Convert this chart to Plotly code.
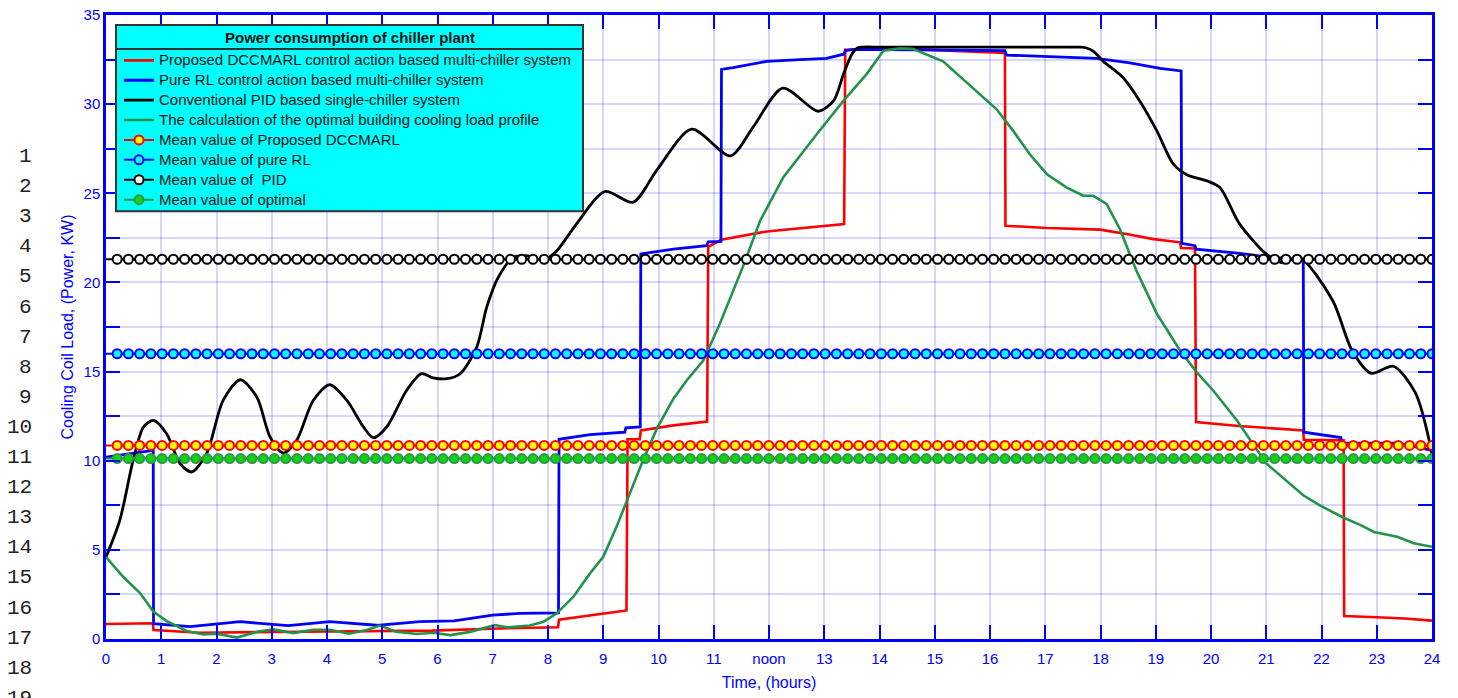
import plotly.graph_objects as go
import numpy as np

# ---------------- data ----------------
hours_ticks = list(range(0, 25))
hour_labels = [str(h) if h != 12 else "noon" for h in hours_ticks]
y_tickvals = [0, 2.5, 5, 7.5, 10, 12.5, 15, 17.5, 20, 22.5, 25, 27.5, 30, 32.5, 35]
y_ticktext = ["0", "", "5", "", "10", "", "15", "", "20", "", "25", "", "30", "", "35"]

red_x = [0, 0.5, 0.85, 0.86, 1.7, 3.5, 5.9, 7.25, 8.18, 8.2, 8.94, 9.42, 9.44, 9.66, 9.68,
         10.27, 10.88, 10.9, 11.14, 11.96, 13.36, 13.38, 14.5, 15.82, 16.27, 16.28, 17.03,
         17.99, 18.47, 18.96, 19.44, 19.46, 19.71, 19.73, 20.5, 21.67, 21.68, 22.4, 22.41,
         23.0, 23.5, 24]
red_y = [0.84, 0.87, 0.88, 0.5, 0.35, 0.41, 0.47, 0.6, 0.66, 1.08, 1.38, 1.6, 11.2, 11.2, 11.7,
         11.98, 12.2, 22.0, 22.4, 22.86, 23.27, 33.05, 33.1, 32.94, 32.87, 23.18, 23.05,
         22.96, 22.72, 22.43, 22.25, 21.93, 21.9, 12.17, 11.95, 11.7, 11.18, 11.15, 1.29,
         1.22, 1.15, 1.03]

blue_x = [0, 0.83, 0.855, 0.86, 1.52, 2.43, 3.3, 4.05, 4.9, 5.68, 6.3, 7.0, 7.5, 8.19, 8.2,
          8.76, 9.39, 9.41, 9.67, 9.68, 10.27, 10.87, 10.9, 11.13, 11.14, 11.35, 11.96, 12.56,
          13.04, 13.35, 13.38, 13.53, 16.27, 16.3, 17.93, 18.53, 19.08, 19.46, 19.47, 19.71,
          19.73, 20.52, 21.1, 21.67, 21.68, 22.35, 22.37, 23.4, 24]
blue_y = [10.2, 10.58, 10.58, 0.86, 0.69, 0.97, 0.75, 0.97, 0.77, 0.98, 1.02, 1.34, 1.44, 1.47, 11.2,
          11.46, 11.6, 11.85, 11.89, 21.6, 21.87, 22.06, 22.28, 22.3, 31.95, 32.05, 32.4, 32.5,
          32.57, 32.8, 33.0, 33.07, 33.0, 32.75, 32.57, 32.32, 32.0, 31.86, 22.19, 22.06,
          21.87, 21.63, 21.4, 21.3, 11.6, 11.3, 11.0, 10.98, 10.58]

black_x = [0, 0.25, 0.49, 0.68, 0.86, 1.1, 1.34, 1.55, 1.82, 2.12, 2.43, 2.73, 2.97, 3.21, 3.45,
           3.75, 4.05, 4.36, 4.66, 4.84, 5.08, 5.44, 5.71, 5.92, 6.17, 6.41, 6.71, 6.89, 7.1,
           7.37, 7.61, 7.92, 8.16, 8.52, 9.03, 9.54, 9.97, 10.6, 11.3, 11.71, 12.25, 12.89,
           13.17, 13.35, 13.5, 13.6, 13.7, 14.0, 15.0, 16.0, 17.0, 17.5, 17.65, 17.75, 17.88,
           18.05, 18.41, 18.71, 19.02, 19.32, 19.56, 19.92, 20.16, 20.52, 21.0, 21.3, 21.6,
           22.2, 22.55, 22.9, 23.3, 23.7, 24]
black_y = [4.6, 6.66, 10.0, 11.9, 12.26, 11.5, 9.84, 9.37, 10.4, 13.38, 14.54, 13.57, 11.33, 10.43,
           11.14, 13.38, 14.26, 13.38, 11.89, 11.29, 11.89, 13.94, 14.88, 14.65, 14.6, 14.88,
           16.37, 18.6, 20.29, 21.4, 21.5, 21.26, 21.78, 23.3, 25.1, 24.5, 26.3, 28.6, 27.1,
           28.7, 30.9, 29.6, 30.2, 31.7, 32.8, 33.15, 33.2, 33.2, 33.2, 33.2, 33.2, 33.2, 33.2,
           33.15, 32.95, 32.4, 31.48, 30.18, 28.5, 26.63, 26.04, 25.7, 25.32, 23.27, 21.6,
           21.1, 21.4, 19.0, 16.2, 14.9, 15.3, 13.8, 10.4]

green_x = [0, 0.31, 0.62, 0.86, 1.1, 1.46, 1.76, 2.0, 2.37, 2.73, 3.03, 3.39, 3.75, 4.05, 4.4,
           4.72, 4.96, 5.25, 5.62, 5.92, 6.23, 6.59, 7.04, 7.28, 7.67, 7.92, 8.16, 8.46, 8.76,
           9.0, 9.24, 9.48, 9.72, 9.97, 10.27, 10.51, 10.81, 11.11, 11.53, 11.84, 12.26, 12.86,
           13.35, 13.77, 14.07, 14.37, 14.6, 15.15, 15.7, 16.12, 16.42, 16.72, 17.03, 17.39,
           17.69, 17.87, 18.11, 18.35, 18.65, 19.02, 19.44, 19.74, 20.04, 20.47, 21.0, 21.67,
           21.97, 22.4, 22.7, 22.95, 23.37, 23.67, 24]
green_y = [4.6, 3.49, 2.56, 1.53, 1.0, 0.45, 0.25, 0.3, 0.08, 0.4, 0.54, 0.33, 0.52, 0.52, 0.3,
           0.5, 0.75, 0.41, 0.28, 0.35, 0.22, 0.4, 0.78, 0.65, 0.76, 0.97, 1.44, 2.37, 3.68,
           4.61, 6.29, 8.16, 10.02, 11.8, 13.48, 14.5, 15.62, 17.68, 20.9, 23.46, 25.9, 28.3,
           30.2, 31.7, 33.0, 33.13, 33.1, 32.4, 30.9, 29.71, 28.5, 27.19, 26.07, 25.32,
           24.86, 24.86, 24.4, 23.0, 20.66, 18.24, 16.18, 14.97, 13.94, 12.26, 9.85, 8.06,
           7.5, 6.8, 6.4, 6.0, 5.73, 5.37, 5.17]

mean_dccmarl = 10.86
mean_rl = 16.0
mean_pid = 21.3
mean_opt = 10.12

legend_title = "Power consumption of chiller plant"

# marker positions of the mean lines
n_marks = 118
mark_x = np.linspace(24, 24 - (n_marks - 1) * 0.2034, n_marks)[::-1]

GREEN_LINE = "#23934a"
W, H = 1458, 698
ML, MR, MT, MB = 106, 26, 6, 59
# actual rendered plot box (plotly adds a few px at the top)
BOX_L, BOX_R, BOX_T, BOX_B = 106, 1432, 13, 639


def leg(txt):
    return '<span style="font-size:15px">' + txt + '</span>'


fig = go.Figure()
fig.add_trace(go.Scatter(x=red_x, y=red_y, mode="lines", name=leg("Proposed DCCMARL control action based multi-chiller system"),
                         line=dict(color="#ff0000", width=2.6)))
fig.add_trace(go.Scatter(x=blue_x, y=blue_y, mode="lines", name=leg("Pure RL control action based multi-chiller system"),
                         line=dict(color="#0000ff", width=2.8)))
fig.add_trace(go.Scatter(x=black_x, y=black_y, mode="lines", name=leg("Conventional PID based single-chiller system"),
                         line=dict(color="#000000", width=2.8, shape="spline", smoothing=0.8)))
fig.add_trace(go.Scatter(x=green_x, y=green_y, mode="lines", name=leg("The calculation of the optimal building cooling load profile"),
                         line=dict(color=GREEN_LINE, width=2.6)))

means = [
    (mean_dccmarl, "Mean value of Proposed DCCMARL", "#ff0000", "#ffff00", "#ff0000"),
    (mean_rl, "Mean value of pure RL", "#0000ff", "#00ffff", "#0000ff"),
    (mean_pid, "Mean value of\u00a0 PID", "#000000", "#ffffff", "#000000"),
    (mean_opt, "Mean value of optimal", GREEN_LINE, "#14d214", "#2a9a45"),
]
for val, name, lc, fill, edge in means:
    fig.add_trace(go.Scatter(x=[0, 24], y=[val, val], mode="lines", showlegend=False,
                             line=dict(color=lc, width=2), hoverinfo="skip"))
    fig.add_trace(go.Scatter(x=mark_x, y=[val] * n_marks, mode="lines+markers", name=leg(name),
                             line=dict(color=lc, width=2),
                             marker=dict(size=9, color=fill, line=dict(color=edge, width=2))))


def px_x(px):
    return (px - BOX_L) / (BOX_R - BOX_L)


def px_y(py):
    return (BOX_B - py) / (BOX_B - BOX_T)


# line numbers at the left edge
for n in range(1, 20):
    ypx = 155 + (n - 1) * 30.2
    fig.add_annotation(x=px_x(34), y=px_y(ypx), xref="paper", yref="paper",
                       text=str(n), showarrow=False, xanchor="right", yanchor="middle",
                       font=dict(family="Liberation Mono", size=21, color="#222222"))

# legend frame (cyan box with a title row)
fig.add_shape(type="rect", xref="paper", yref="paper", layer="above",
              x0=px_x(116), x1=px_x(583), y0=px_y(210), y1=px_y(23),
              fillcolor="#00ffff", line=dict(color="#333333", width=2))
fig.add_shape(type="line", xref="paper", yref="paper", layer="above",
              x0=px_x(116), x1=px_x(583), y0=px_y(47), y1=px_y(47),
              line=dict(color="#333333", width=2))
fig.add_annotation(x=px_x(349.5), y=px_y(35.5), xref="paper", yref="paper",
                   text="<b>" + legend_title + "</b>", showarrow=False,
                   xanchor="center", yanchor="middle",
                   font=dict(family="Liberation Sans, Arial", size=15, color="#111111"))

axis_common = dict(
    showline=True, linecolor="#0000ff", linewidth=2.5, mirror="ticks",
    ticks="inside", ticklen=14, tickwidth=2, tickcolor="#0000ff",
    showgrid=True, gridcolor="rgba(0,0,255,0.16)", gridwidth=1.5,
    zeroline=False,
    tickfont=dict(family="Liberation Sans, Arial", size=15, color="#0000ff"),
)

fig.update_xaxes(range=[0, 24], tickmode="array", tickvals=hours_ticks, ticktext=hour_labels,
                 title=dict(text="Time, (hours)", font=dict(family="Liberation Sans, Arial", size=16, color="#0000ff"), standoff=12),
                 ticklabelstandoff=4, **axis_common)
fig.update_yaxes(range=[0, 35], tickmode="array", tickvals=y_tickvals, ticktext=y_ticktext,
                 title=dict(text="Cooling Coil Load, (Power, KW)", font=dict(family="Liberation Sans, Arial", size=16, color="#0000ff"), standoff=6),
                 **axis_common)

fig.update_layout(
    width=W, height=H, autosize=False,
    margin=dict(l=ML, r=MR, t=MT, b=MB),
    paper_bgcolor="white", plot_bgcolor="white",
    showlegend=True,
    legend=dict(
        x=px_x(119), y=px_y(43.5), xanchor="left", yanchor="top",
        bgcolor="rgba(0,0,0,0)", borderwidth=0,
        font=dict(family="Liberation Sans, Arial", size=13, color="#111111"),
        itemwidth=30, tracegroupgap=0,
    ),
)

fig.write_html("out.html")
